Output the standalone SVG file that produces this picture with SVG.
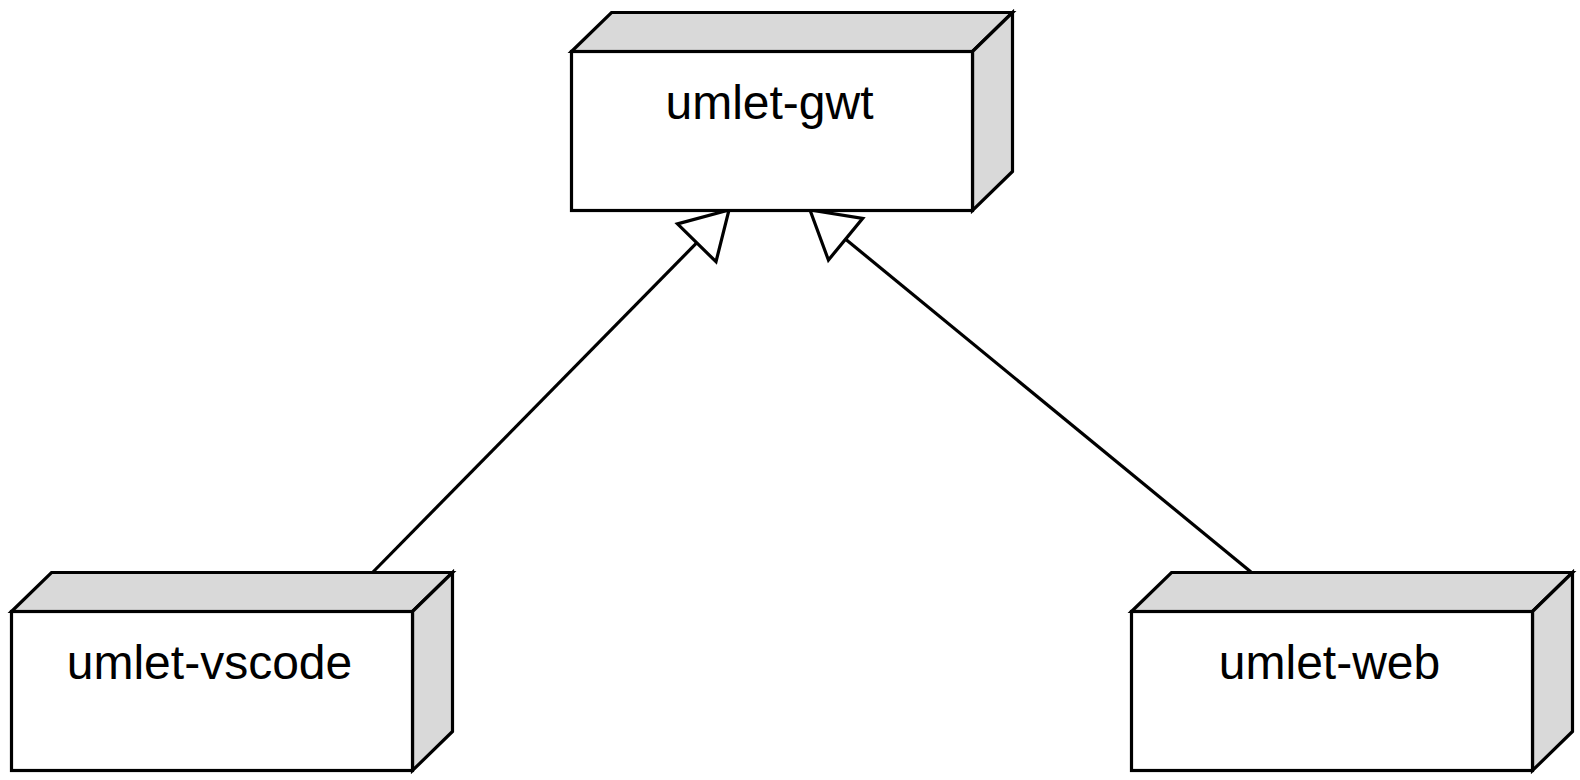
<svg xmlns="http://www.w3.org/2000/svg" xmlns:xlink="http://www.w3.org/1999/xlink" width="1580" height="780" viewBox="0 0 1580 780">
  <style>
    .edge { stroke: #000; stroke-width: 3.2; fill: none; }
    .face { fill: #d9d9d9; stroke: #000; stroke-width: 3.2; stroke-linejoin: miter; }
    .front { fill: #fff; stroke: #000; stroke-width: 3.2; }
    .label { font-family: "Liberation Sans", Arial, sans-serif; font-size: 48px; fill: #000; text-anchor: middle; }
    .head { fill: #fff; stroke: #000; stroke-width: 3.2; stroke-linejoin: miter; }
  </style>
  <defs>
    <marker id="inherit" markerUnits="userSpaceOnUse" orient="auto" refX="0" refY="0" markerWidth="60" markerHeight="60" overflow="visible">
      <path class="head" d="M -46 -27 L 0 0 L -46 27 Z"/>
    </marker>
    <g id="nodeShape">
      <polygon class="face" points="0,0 40,-39 441,-39 401,0"/>
      <polygon class="face" points="401,0 441,-39 441,120 401,159"/>
      <rect class="front" x="0" y="0" width="401" height="159"/>
    </g>
  </defs>
  <rect width="1580" height="780" fill="#fff"/>
  <g id="connectors">
    <path class="edge" d="M 373 572 L 729 210" marker-end="url(#inherit)"/>
    <path class="edge" d="M 1251 572 L 810 210" marker-end="url(#inherit)"/>
  </g>
  <g id="umlet-gwt" transform="translate(571.5,51.5)">
    <use xlink:href="#nodeShape"/>
    <text class="label" x="198" y="67">umlet-gwt</text>
  </g>
  <g id="umlet-vscode" transform="translate(11.5,611.5)">
    <use xlink:href="#nodeShape"/>
    <text class="label" x="198" y="67">umlet-vscode</text>
  </g>
  <g id="umlet-web" transform="translate(1131.5,611.5)">
    <use xlink:href="#nodeShape"/>
    <text class="label" x="198" y="67">umlet-web</text>
  </g>
</svg>
